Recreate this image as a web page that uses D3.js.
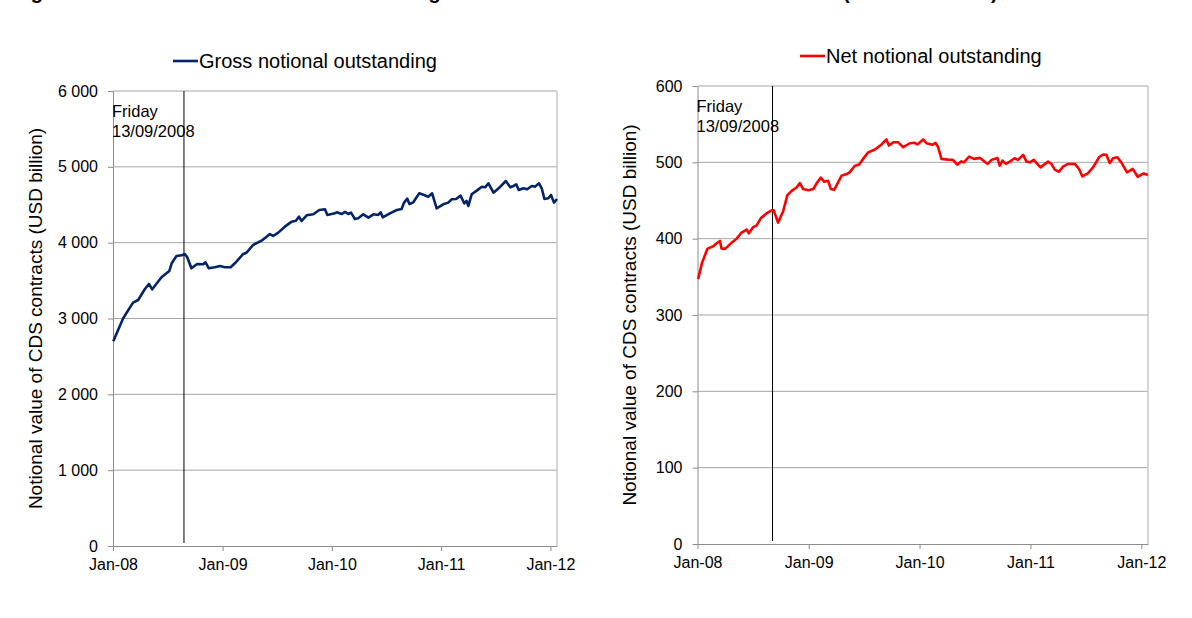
<!DOCTYPE html>
<html>
<head>
<meta charset="utf-8">
<script src="https://cdn.jsdelivr.net/npm/d3@7"></script>
<style>
  body { margin: 0; background: #fff; }
  svg { display: block; font-family: "Liberation Sans", Arial, sans-serif; }
</style>
</head>
<body>
<svg id="chart" width="1192" height="618"></svg>
<script>
// values
const grossDates = ["2008-01-02","2008-02-04","2008-03-08","2008-03-25","2008-04-16","2008-04-30","2008-05-11","2008-06-11","2008-07-07","2008-07-15",
  "2008-07-31","2008-08-17","2008-08-28","2008-09-05","2008-09-19","2008-10-08","2008-10-28","2008-11-05","2008-11-16","2008-12-06",
  "2008-12-23","2009-01-09","2009-01-28","2009-02-11","2009-03-11","2009-03-22","2009-04-13","2009-05-11","2009-05-28","2009-06-08",
  "2009-06-19","2009-07-06","2009-07-28","2009-08-20","2009-09-03","2009-09-13","2009-09-22","2009-10-09","2009-10-31","2009-11-20",
  "2009-12-09","2009-12-17","2010-01-11","2010-01-17","2010-02-03","2010-02-14","2010-02-25","2010-03-06","2010-03-19","2010-03-30",
  "2010-04-16","2010-05-03","2010-05-20","2010-06-05","2010-06-13","2010-06-20","2010-07-14","2010-08-06","2010-08-22","2010-08-30",
  "2010-09-10","2010-09-17","2010-09-30","2010-10-20","2010-11-05","2010-11-19","2010-12-02","2010-12-17","2011-01-08","2011-01-25",
  "2011-02-05","2011-02-20","2011-03-07","2011-03-19","2011-03-27","2011-04-02","2011-04-13","2011-04-30","2011-05-17","2011-05-28",
  "2011-06-08","2011-06-25","2011-07-12","2011-08-05","2011-08-20","2011-08-31","2011-09-09","2011-09-17","2011-10-03","2011-10-15",
  "2011-10-31","2011-11-11","2011-11-24","2011-12-03","2011-12-12","2011-12-25","2012-01-03","2012-01-13","2012-01-23"];
const grossValues = [2700,3003,3209,3244,3385,3455,3385,3543,3626,3728,
  3824,3833,3851,3807,3662,3719,3715,3741,3662,3675,
  3692,3675,3675,3728,3851,3868,3969,4026,4079,4114,
  4088,4132,4211,4277,4290,4343,4286,4361,4374,4431,
  4440,4365,4387,4400,4378,4405,4378,4396,4312,4321,
  4374,4330,4374,4365,4400,4334,4387,4431,4444,4528,
  4580,4510,4532,4651,4629,4606,4651,4453,4506,4528,
  4572,4576,4620,4519,4550,4484,4638,4686,4738,4730,
  4783,4659,4717,4813,4730,4748,4770,4695,4717,4704,
  4748,4739,4783,4717,4576,4585,4629,4528,4576];

const netDates = ["2008-01-03","2008-01-16","2008-02-03","2008-02-22","2008-03-04","2008-03-15","2008-03-20","2008-04-02","2008-04-22","2008-05-09",
  "2008-05-25","2008-06-11","2008-06-18","2008-07-02","2008-07-13","2008-07-28","2008-08-15","2008-09-01","2008-09-08","2008-09-22",
  "2008-10-09","2008-10-23","2008-11-06","2008-11-22","2008-12-03","2008-12-14","2008-12-31","2009-01-16","2009-01-29","2009-02-10",
  "2009-02-21","2009-03-06","2009-03-15","2009-03-26","2009-04-19","2009-05-06","2009-05-16","2009-06-02","2009-06-16","2009-06-29",
  "2009-07-16","2009-08-07","2009-08-29","2009-09-14","2009-09-22","2009-10-08","2009-10-22","2009-11-08","2009-11-30","2009-12-16",
  "2009-12-25","2010-01-13","2010-01-24","2010-02-12","2010-02-23","2010-03-03","2010-03-14","2010-04-05","2010-04-21","2010-05-05",
  "2010-05-19","2010-05-27","2010-06-13","2010-06-29","2010-07-19","2010-08-13","2010-08-26","2010-09-14","2010-09-22","2010-10-01",
  "2010-10-12","2010-10-25","2010-11-10","2010-11-21","2010-12-08","2010-12-19","2010-12-30","2011-01-12","2011-02-03","2011-02-28",
  "2011-03-11","2011-03-22","2011-04-05","2011-04-18","2011-05-05","2011-05-27","2011-06-10","2011-06-21","2011-07-10","2011-07-26",
  "2011-08-15","2011-08-28","2011-09-08","2011-09-19","2011-09-30","2011-10-14","2011-10-27","2011-11-15","2011-12-04","2011-12-20",
  "2012-01-09","2012-01-23"];
const netValues = [347,368.5,387,390,394,397,387,387,394.5,400,
  408,412,407,415,417,427,433,437,437,421,
  436,457,462.6,467,472.8,465,463.5,465,473.6,480,
  474.5,475.8,465,464,482.4,484.7,486.8,495.6,497,504.5,
  513,516.8,523.4,530,522,526.4,526.4,519.8,525,525.6,
  523.4,530,525,523,525.6,519.8,504.5,503.6,503.2,497,
  501.3,500,507.5,504.5,505.8,497.9,503.2,505.8,495.6,502.2,
  497.9,500.9,505.3,503.2,509.8,500.9,500,503.2,493.4,500.9,
  497.9,490.4,487.7,494.3,497.9,497.9,491.3,481.5,486,493.4,
  506.6,510.2,509.8,499.2,505.3,506.6,500,486.8,491.3,481.1,
  485.4,483.3];

const grossTicks = [0, 1000, 2000, 3000, 4000, 5000, 6000];
const netTicks = [0, 100, 200, 300, 400, 500, 600];
const yearTicks = ["2008-01-01", "2009-01-01", "2010-01-01", "2011-01-01", "2012-01-01"];
const dateRange = ["2008-01-01", "2012-01-23"];
const markerDates = ["2008-08-25", "2008-09-04"];
const markerLabel = ["Friday", "13/09/2008"];
const seriesNames = ["Gross notional outstanding", "Net notional outstanding"];
const seriesColors = ["#022468", "#ff0000"];
const axisTitle = "Notional value of CDS contracts (USD billion)";
const titleText = "Figure 2: Gross and net notional outstanding of CDS contracts on all reference entities (in USD billions)";

const parse = d3.timeParse("%Y-%m-%d");
const fmt = d3.formatLocale({ decimal: ".", thousands: " ", grouping: [3], currency: ["", ""] }).format(",");
const svg = d3.select("#chart");

// title sits above the picture, only its tails show
svg.append("text")
  .attr("x", 13).attr("y", -1)
  .style("font-size", "20px").style("font-weight", "bold")
  .text(titleText);

function drawPanel(p) {
  const x = d3.scaleTime().domain(dateRange.map(parse)).range([p.left, p.right]);
  const y = d3.scaleLinear().domain([0, p.ticks[p.ticks.length - 1]]).range([p.bottom, p.top]);
  const data = p.dates.map(function (d, i) { return { date: parse(d), value: p.values[i] }; });
  const g = svg.append("g");

  // grid
  g.append("g").selectAll("line")
    .data(p.ticks.slice(1))
    .join("line")
    .attr("x1", p.left).attr("x2", p.right)
    .attr("y1", function (d) { return y(d); }).attr("y2", function (d) { return y(d); })
    .attr("stroke", "#a6a6a6").attr("stroke-width", 1);

  g.append("line")
    .attr("x1", p.right).attr("x2", p.right)
    .attr("y1", p.top).attr("y2", p.bottom)
    .attr("stroke", "#c8c8c8").attr("stroke-width", 1.5);

  const yAxis = g.append("g")
    .attr("transform", "translate(" + p.left + ",0)")
    .call(d3.axisLeft(y).tickValues(p.ticks).tickSize(5).tickSizeOuter(0).tickPadding(10).tickFormat(fmt));
  const xAxis = g.append("g")
    .attr("transform", "translate(0," + p.bottom + ")")
    .call(d3.axisBottom(x).tickValues(yearTicks.map(parse)).tickSize(5).tickSizeOuter(0).tickPadding(8)
      .tickFormat(d3.timeFormat("%b-%y")));
  [yAxis, xAxis].forEach(function (a) {
    a.select(".domain").attr("stroke", "#8c8c8c");
    a.selectAll(".tick line").attr("stroke", "#8c8c8c");
    a.selectAll(".tick text").attr("fill", "#000").style("font-size", "16px").attr("font-family", null);
    a.attr("font-family", null).attr("font-size", null);
  });

  // event marker
  const mx = x(parse(p.marker));
  g.append("line")
    .attr("x1", mx).attr("x2", mx)
    .attr("y1", p.top).attr("y2", p.bottom - 3)
    .attr("stroke", "#000").attr("stroke-width", 1);
  g.append("text")
    .attr("x", p.left - 1).attr("y", p.top + 26)
    .style("font-size", "16.5px")
    .selectAll("tspan")
    .data(markerLabel)
    .join("tspan")
    .attr("x", p.left - 1)
    .attr("dy", function (d, i) { return i ? 19.5 : 0; })
    .text(function (d) { return d; });

  g.append("path")
    .datum(data)
    .attr("fill", "none")
    .attr("stroke", p.color)
    .attr("stroke-width", 2.6)
    .attr("stroke-linejoin", "round")
    .attr("d", d3.line().x(function (d) { return x(d.date); }).y(function (d) { return y(d.value); }));

  // legend
  g.append("line")
    .attr("x1", p.legendX).attr("x2", p.legendX + 25)
    .attr("y1", p.legendY).attr("y2", p.legendY)
    .attr("stroke", p.color).attr("stroke-width", 2.6);
  g.append("text")
    .attr("x", p.legendX + 26).attr("y", p.legendY)
    .attr("dominant-baseline", "central")
    .style("font-size", "20px")
    .text(p.name);

  g.append("text")
    .attr("transform", "translate(" + p.titleX + "," + (p.top + p.bottom) / 2 + ") rotate(-90)")
    .attr("text-anchor", "middle")
    .attr("dominant-baseline", "central")
    .style("font-size", "19px")
    .text(axisTitle);
}

drawPanel({ left: 113, right: 557, top: 91, bottom: 546, ticks: grossTicks, dates: grossDates, values: grossValues,
  marker: markerDates[0], color: seriesColors[0], name: seriesNames[0], legendX: 173, legendY: 61, titleX: 35 });
drawPanel({ left: 697.5, right: 1148, top: 86, bottom: 544, ticks: netTicks, dates: netDates, values: netValues,
  marker: markerDates[1], color: seriesColors[1], name: seriesNames[1], legendX: 800, legendY: 56, titleX: 629 });
</script>
</body>
</html>
